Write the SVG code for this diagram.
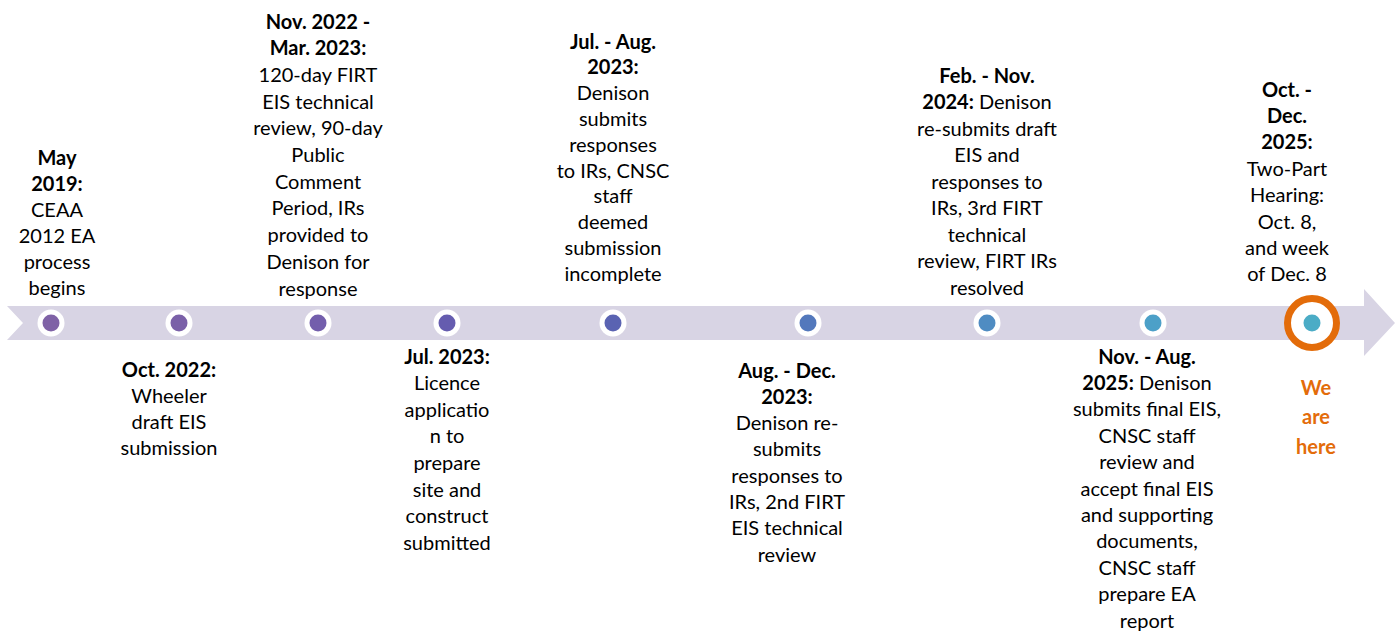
<svg xmlns="http://www.w3.org/2000/svg" width="1396" height="631" viewBox="0 0 1396 631">
<style>
  .t { font-family: Lato, "Liberation Sans", sans-serif; font-size: 20px; fill: #000; text-anchor: middle; }
  .b { font-weight: bold; }
  .here { font-family: Lato, "Liberation Sans", sans-serif; font-size: 20px; font-weight: bold; fill: #E36C0A; text-anchor: middle; }
  .ring { fill: #fff; }
</style>
<rect width="1396" height="631" fill="#fff"/>
<g id="timeline-arrow">
  <polygon points="7,306 1364,306 1364,289 1395,323 1364,356 1364,340 7,340 23,323" fill="#D8D4E4"/>
</g>
<g id="connectors"></g>
<g id="node1">
  <circle cx="51" cy="323" r="13.5" class="ring"/><circle cx="51" cy="323" r="8.5" fill="#7F62A6"/>
  <text class="t"><tspan class="b" x="57" y="165">May</tspan><tspan class="b" x="57" y="191">2019:</tspan><tspan x="57" y="217">CEAA</tspan><tspan x="57" y="243">2012 EA</tspan><tspan x="57" y="269">process</tspan><tspan x="57" y="295">begins</tspan></text>
</g>
<g id="node2">
  <circle cx="179" cy="323" r="13.5" class="ring"/><circle cx="179" cy="323" r="8.5" fill="#7A60A8"/>
  <text class="t"><tspan class="b" x="169" y="376.5">Oct. 2022:</tspan><tspan x="169" y="402.8">Wheeler</tspan><tspan x="169" y="429.1">draft EIS</tspan><tspan x="169" y="455.4">submission</tspan></text>
</g>
<g id="node3">
  <circle cx="318" cy="323" r="13.5" class="ring"/><circle cx="318" cy="323" r="8.5" fill="#735EAC"/>
  <text class="t"><tspan class="b" x="318" y="28.5">Nov. 2022 -</tspan><tspan class="b" x="318" y="55.2">Mar. 2023:</tspan><tspan x="318" y="81.9">120-day FIRT</tspan><tspan x="318" y="108.6">EIS technical</tspan><tspan x="318" y="135.3">review, 90-day</tspan><tspan x="318" y="162">Public</tspan><tspan x="318" y="188.7">Comment</tspan><tspan x="318" y="215.4">Period, IRs</tspan><tspan x="318" y="242.1">provided to</tspan><tspan x="318" y="268.8">Denison for</tspan><tspan x="318" y="295.5">response</tspan></text>
</g>
<g id="node4">
  <circle cx="447" cy="323" r="13.5" class="ring"/><circle cx="447" cy="323" r="8.5" fill="#655CAF"/>
  <text class="t"><tspan class="b" x="447" y="363.5">Jul. 2023:</tspan><tspan x="447" y="390.1">Licence</tspan><tspan x="447" y="416.7">applicatio</tspan><tspan x="447" y="443.3">n to</tspan><tspan x="447" y="469.9">prepare</tspan><tspan x="447" y="496.5">site and</tspan><tspan x="447" y="523.1">construct</tspan><tspan x="447" y="549.7">submitted</tspan></text>
</g>
<g id="node5">
  <circle cx="613" cy="323" r="13.5" class="ring"/><circle cx="613" cy="323" r="8.5" fill="#5A63B2"/>
  <text class="t"><tspan class="b" x="613" y="48.5">Jul. - Aug.</tspan><tspan class="b" x="613" y="74.3">2023:</tspan><tspan x="613" y="100.1">Denison</tspan><tspan x="613" y="125.9">submits</tspan><tspan x="613" y="151.7">responses</tspan><tspan x="613" y="177.5">to IRs, CNSC</tspan><tspan x="613" y="203.3">staff</tspan><tspan x="613" y="229.1">deemed</tspan><tspan x="613" y="254.9">submission</tspan><tspan x="613" y="280.7">incomplete</tspan></text>
</g>
<g id="node6">
  <circle cx="808" cy="323" r="13.5" class="ring"/><circle cx="808" cy="323" r="8.5" fill="#5378BC"/>
  <text class="t"><tspan class="b" x="787" y="377.5">Aug. - Dec.</tspan><tspan class="b" x="787" y="403.8">2023:</tspan><tspan x="787" y="430.1">Denison re-</tspan><tspan x="787" y="456.4">submits</tspan><tspan x="787" y="482.7">responses to</tspan><tspan x="787" y="509">IRs, 2nd FIRT</tspan><tspan x="787" y="535.3">EIS technical</tspan><tspan x="787" y="561.6">review</tspan></text>
</g>
<g id="node7">
  <circle cx="987" cy="323" r="13.5" class="ring"/><circle cx="987" cy="323" r="8.5" fill="#4F8CC2"/>
  <text class="t"><tspan class="b" x="987" y="82.5">Feb. - Nov.</tspan><tspan x="987" y="109"><tspan class="b">2024:</tspan> Denison</tspan><tspan x="987" y="135.5">re-submits draft</tspan><tspan x="987" y="162">EIS and</tspan><tspan x="987" y="188.5">responses to</tspan><tspan x="987" y="215">IRs, 3rd FIRT</tspan><tspan x="987" y="241.5">technical</tspan><tspan x="987" y="268">review, FIRT IRs</tspan><tspan x="987" y="294.5">resolved</tspan></text>
</g>
<g id="node8">
  <circle cx="1153" cy="323" r="13.5" class="ring"/><circle cx="1153" cy="323" r="8.5" fill="#4CA0C8"/>
  <text class="t"><tspan class="b" x="1147" y="363.5">Nov. - Aug.</tspan><tspan x="1147" y="389.9"><tspan class="b">2025:</tspan> Denison</tspan><tspan x="1147" y="416.3">submits final EIS,</tspan><tspan x="1147" y="442.7">CNSC staff</tspan><tspan x="1147" y="469.1">review and</tspan><tspan x="1147" y="495.5">accept final EIS</tspan><tspan x="1147" y="521.9">and supporting</tspan><tspan x="1147" y="548.3">documents,</tspan><tspan x="1147" y="574.7">CNSC staff</tspan><tspan x="1147" y="601.1">prepare EA</tspan><tspan x="1147" y="627.5">report</tspan></text>
</g>
<g id="node9">
  <circle cx="1312" cy="323" r="24.5" fill="#fff" stroke="#E36C0A" stroke-width="7"/>
  <circle cx="1312" cy="323" r="8.5" fill="#4BACC6"/>
  <text class="t"><tspan class="b" x="1287" y="96.5">Oct. -</tspan><tspan class="b" x="1287" y="122.9">Dec.</tspan><tspan class="b" x="1287" y="149.3">2025:</tspan><tspan x="1287" y="175.7">Two-Part</tspan><tspan x="1287" y="202.1">Hearing:</tspan><tspan x="1287" y="228.5">Oct. 8,</tspan><tspan x="1287" y="254.9">and week</tspan><tspan x="1287" y="281.3">of Dec. 8</tspan></text>
</g>
<g id="we-are-here">
  <text class="here"><tspan x="1316" y="394.5">We</tspan><tspan x="1316" y="424">are</tspan><tspan x="1316" y="453.5">here</tspan></text>
</g>
</svg>
